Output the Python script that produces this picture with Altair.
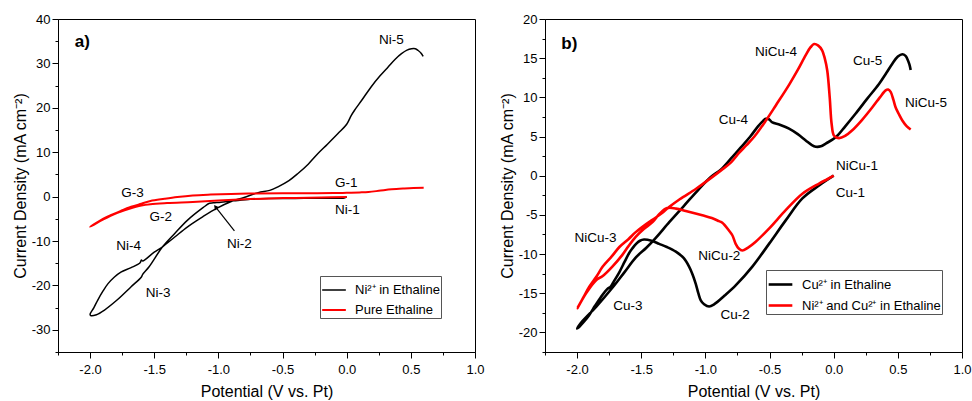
import altair as alt
import pandas as pd

FONT = "Liberation Sans"

# ---------------- Panel a) data ----------------
a_black_V = [0.0, -0.02, -0.2, -0.4, -0.6, -0.75, -0.88, -0.98, -1.04, -1.07, -1.12, -1.24, -1.34, -1.435,
             -1.54, -1.59, -1.60, -1.68, -1.79, -1.89, -1.95, -1.995, -2.0, -1.97, -1.94, -1.90, -1.86, -1.81,
             -1.76, -1.68, -1.61, -1.60, -1.59, -1.5, -1.435, -1.34, -1.24, -1.12, -1.01, -0.9, -0.8, -0.69,
             -0.6, -0.536, -0.45, -0.38, -0.3, -0.224, -0.15, -0.068, 0.0, 0.036, 0.06, 0.12, 0.19, 0.26,
             0.323, 0.38, 0.427, 0.47, 0.505, 0.535, 0.557, 0.58, 0.596]
a_black_J = [0.0, -0.3, -0.35, -0.4, -0.45, -0.6, -0.95, -1.25, -1.4, -1.5, -2.5, -5.3, -8.3, -11.3,
             -15.8, -17.5, -18.1, -20.3, -23.3, -25.6, -26.6, -26.8, -26.5, -25.0, -23.3, -21.3, -19.6, -18.1,
             -17.0, -16.0, -14.9, -14.3, -14.5, -12.5, -11.3, -9.1, -6.8, -4.5, -2.6, -1.1, -0.2, 0.9,
             1.4, 2.2, 3.6, 5.2, 7.3, 9.7, 11.8, 14.2, 16.3, 18.3, 19.4, 21.8, 24.7, 27.2,
             29.2, 31.0, 32.2, 33.0, 33.3, 33.3, 32.9, 32.3, 31.6]

a_red_V = [0.0, -0.2, -0.4, -0.6, -0.8, -1.0, -1.2, -1.4, -1.53, -1.6, -1.7, -1.8, -1.9, -2.0, -1.9,
           -1.84, -1.76, -1.68, -1.6, -1.53, -1.42, -1.32, -1.2, -1.06, -0.9, -0.7, -0.5, -0.3, -0.1,
           0.0, 0.1, 0.17, 0.25, 0.35, 0.45, 0.52, 0.6]
a_red_J = [-0.1, -0.2, -0.3, -0.4, -0.6, -0.9, -1.2, -1.45, -1.7, -2.0, -2.8, -3.8, -5.2, -6.8, -5.0,
           -4.2, -3.2, -2.3, -1.6, -1.0, -0.5, -0.1, 0.25, 0.45, 0.6, 0.7, 0.75, 0.75, 0.8,
           0.85, 0.95, 1.05, 1.3, 1.65, 1.85, 1.95, 2.0]

a_series = ["Ni²⁺ in Ethaline", "Pure Ethaline"]

a_labels = ["Ni-5", "G-1", "Ni-1", "G-3", "G-2", "Ni-4", "Ni-2", "Ni-3"]
a_label_V = [0.349, -0.003, 0.005, -1.67, -1.45, -1.70, -0.836, -1.47]
a_label_J = [35.3, 3.1, -3.1, 0.75, -4.7, -11.2, -10.6, -21.7]

a_arrow_V = [-0.875]
a_arrow_J = [-7.73]
a_arrow_V2 = [-1.018]
a_arrow_J2 = [-2.47]

# ---------------- Panel b) data ----------------
b_black_V = [0.0, -0.114, -0.244, -0.374, -0.504, -0.634, -0.764, -0.85, -0.93, -0.971, -1.01, -1.036,
             -1.055, -1.075, -1.1, -1.127, -1.17, -1.23, -1.30, -1.36, -1.42, -1.478, -1.51, -1.54, -1.57,
             -1.595, -1.63, -1.67, -1.71, -1.74, -1.76, -1.815, -1.86, -1.906, -1.95, -1.984, -2.0,
             -1.96, -1.85, -1.72, -1.63, -1.54, -1.46, -1.39, -1.28, -1.17, -1.05, -0.96, -0.878, -0.8,
             -0.722, -0.65, -0.59, -0.55, -0.53, -0.505, -0.478, -0.42, -0.348, -0.28, -0.218, -0.17,
             -0.14, -0.1, -0.062, 0.016, 0.09, 0.17, 0.26, 0.353, 0.41, 0.457, 0.5, 0.535, 0.56, 0.574,
             0.59, 0.6]
b_black_J = [0.0, -1.24, -2.9, -5.7, -8.7, -11.6, -14.0, -15.3, -16.4, -16.7, -16.4, -15.9,
             -15.0, -13.8, -12.6, -11.6, -10.5, -9.7, -9.1, -8.7, -8.3, -8.15, -8.3, -8.7, -9.3,
             -9.9, -11.0, -12.3, -13.4, -14.2, -14.4, -15.5, -16.6, -17.8, -18.7, -19.3, -19.5,
             -18.6, -16.7, -14.2, -12.3, -10.4, -9.2, -8.0, -5.9, -3.9, -1.7, -0.2, 0.8, 2.2,
             3.65, 5.0, 6.3, 7.0, 7.26, 7.2, 6.8, 6.5, 6.0, 5.3, 4.5, 3.9,
             3.7, 3.75, 4.1, 4.9, 6.3, 7.9, 9.8, 11.7, 13.1, 14.3, 15.2, 15.5, 15.3, 14.9,
             14.2, 13.5]

b_red_V = [0.0, -0.05, -0.114, -0.244, -0.374, -0.504, -0.61, -0.67, -0.712, -0.74, -0.764, -0.79,
           -0.816, -0.868, -0.894, -0.95, -1.024, -1.153, -1.23, -1.283, -1.31, -1.36, -1.41, -1.48,
           -1.543, -1.6, -1.647, -1.725, -1.80, -1.85, -1.93, -1.997,
           -1.95, -1.906, -1.85, -1.80, -1.73, -1.67, -1.6, -1.543, -1.48, -1.41, -1.34, -1.283, -1.2,
           -1.075, -0.982, -0.878, -0.8, -0.738, -0.68, -0.618, -0.53, -0.45, -0.348, -0.28, -0.218,
           -0.18, -0.153, -0.12, -0.09, -0.07, -0.05, -0.031, -0.016, 0.003, 0.041, 0.09, 0.145, 0.22,
           0.30, 0.36, 0.405, 0.425, 0.444, 0.465, 0.483, 0.51, 0.535, 0.57, 0.6]
b_red_J = [0.0, -0.45, -1.0, -2.3, -4.4, -6.75, -8.45, -9.2, -9.55, -9.3, -8.7, -7.6,
           -7.0, -6.0, -5.8, -5.4, -5.05, -4.5, -4.2, -4.1, -4.2, -4.9, -5.9, -6.8,
           -7.8, -9.0, -10.1, -11.6, -12.8, -13.3, -15.0, -16.9,
           -15.5, -14.2, -12.9, -11.6, -10.3, -9.1, -8.1, -7.2, -6.4, -5.6, -4.8, -4.0, -3.0,
           -1.7, -0.6, 0.68, 1.7, 2.9, 3.9, 5.0, 7.0, 9.0, 11.6, 13.5, 15.4,
           16.4, 16.8, 16.6, 16.0, 15.0, 13.4, 10.0, 6.6, 5.1, 4.8, 5.1, 5.8, 7.1,
           8.7, 10.0, 10.9, 11.0, 10.7, 9.7, 8.7, 7.8, 7.05, 6.3, 5.9]

b_series = ["Cu²⁺ in Ethaline", "Ni²⁺ and Cu²⁺ in Ethaline"]

b_labels = ["NiCu-4", "Cu-5", "NiCu-5", "Cu-4", "NiCu-1", "Cu-1", "NiCu-3", "NiCu-2", "Cu-3", "Cu-2"]
b_label_V = [-0.449, 0.265, 0.719, -0.782, 0.182, 0.13, -1.857, -0.891, -1.605, -0.769]
b_label_J = [15.8, 14.7, 9.3, 7.1, 1.2, -2.2, -8.0, -10.3, -16.6, -17.8]

# ---------------- axes ticks ----------------
x_major = [-2.0, -1.5, -1.0, -0.5, 0.0, 0.5, 1.0]
x_minor = [-2.25, -1.75, -1.25, -0.75, -0.25, 0.25, 0.75]
a_y_major = [-30, -20, -10, 0, 10, 20, 30, 40]
a_y_minor = [-35, -25, -15, -5, 5, 15, 25, 35]
b_y_major = [-20, -15, -10, -5, 0, 5, 10, 15, 20]
b_y_minor = [-22.5, -17.5, -12.5, -7.5, -2.5, 2.5, 7.5, 12.5, 17.5]


def curve_df(series, V, J):
    return pd.DataFrame({"series": series, "V": V, "J": J, "idx": list(range(len(V)))})


def major_axis(values, fmt, title, orient):
    return alt.Axis(
        values=values, title=title, orient=orient, grid=False, tickSize=6, labelFlush=False,
        labelExpr=f"(datum.value < 0 ? '-' : '') + format(abs(datum.value), '{fmt}')",
    )


def minor_axis(values, orient):
    return alt.Axis(values=values, title=None, orient=orient, grid=False, tickSize=3,
                    labels=False, domain=False)


def panel(lines_df, series, widths, lab_df, ydom, ymaj, ymin, tag, tag_J, lx, ly, w, h, arrow_df=None):
    xs = alt.Scale(domain=[-2.25, 1.0], nice=False, zero=False)
    ys = alt.Scale(domain=ydom, nice=False, zero=False)
    lines = alt.Chart(lines_df).mark_line(interpolate="catmull-rom").encode(
        x=alt.X("V:Q", scale=xs, axis=major_axis(x_major, ".1f", "Potential (V vs. Pt)", "bottom")),
        y=alt.Y("J:Q", scale=ys, axis=major_axis(ymaj, "d", "Current Density (mA cm⁻²)", "left")),
        color=alt.Color("series:N", scale=alt.Scale(domain=series, range=["#000000", "#ff0000"]),
                        legend=alt.Legend(title=None, orient="none", legendX=lx, legendY=ly,
                                          symbolType="stroke", symbolSize=560, symbolStrokeWidth=2.2,
                                          labelFont=FONT, labelFontSize=13, labelColor="black",
                                          strokeColor="#555555", fillColor="white", padding=1,
                                          rowPadding=-9, labelOffset=8, labelLimit=300)),
        strokeWidth=alt.StrokeWidth("series:N", scale=alt.Scale(domain=series, range=widths), legend=None),
        order="idx:Q",
    )
    text = alt.Chart(lab_df).mark_text(font=FONT, fontSize=13.5, color="black").encode(
        x=alt.X("V:Q", scale=xs, axis=minor_axis(x_minor, "bottom")),
        y=alt.Y("J:Q", scale=ys, axis=minor_axis(ymin, "left")),
        text="label:N")
    tag_df = pd.DataFrame({"V": [-2.06], "J": [tag_J], "label": [tag]})
    tagm = alt.Chart(tag_df).mark_text(font=FONT, fontSize=17, fontWeight="bold", color="black").encode(
        x=alt.X("V:Q", scale=xs, axis=None), y=alt.Y("J:Q", scale=ys, axis=None), text="label:N")
    layers = [lines, text, tagm]
    if arrow_df is not None:
        rule = alt.Chart(arrow_df).mark_rule(color="black", strokeWidth=1.2).encode(
            x=alt.X("V:Q", scale=xs, axis=None), y=alt.Y("J:Q", scale=ys, axis=None),
            x2="V2:Q", y2="J2:Q")
        head = alt.Chart(arrow_df).mark_point(shape="triangle", filled=True, color="black", size=30,
                                              angle=322, opacity=1).encode(
            x=alt.X("V2:Q", scale=xs, axis=None), y=alt.Y("J2:Q", scale=ys, axis=None))
        layers += [rule, head]
    return alt.layer(*layers).resolve_axis(x="independent", y="independent").properties(width=w, height=h)


a_lines = pd.concat([curve_df(a_series[0], a_black_V, a_black_J),
                     curve_df(a_series[1], a_red_V, a_red_J)], ignore_index=True)
b_lines = pd.concat([curve_df(b_series[0], b_black_V, b_black_J),
                     curve_df(b_series[1], b_red_V, b_red_J)], ignore_index=True)
a_lab = pd.DataFrame({"V": a_label_V, "J": a_label_J, "label": a_labels})
b_lab = pd.DataFrame({"V": b_label_V, "J": b_label_J, "label": b_labels})
a_arrow = pd.DataFrame({"V": a_arrow_V, "J": a_arrow_J, "V2": a_arrow_V2, "J2": a_arrow_J2})

left = panel(a_lines, a_series, [1.5, 2.0], a_lab, [-35, 40], a_y_major, a_y_minor, "a)", 34.8,
             262, 257, 417, 333, a_arrow)
right = panel(b_lines, b_series, [2.6, 2.6], b_lab, [-22.5, 20], b_y_major, b_y_minor, "b)", 16.8,
              221, 251, 417, 333)

chart = alt.hconcat(left, right, spacing=13).resolve_scale(color="independent", strokeWidth="independent").properties(
    padding={"left": 11, "top": 12, "right": 0, "bottom": 0}
).configure_view(stroke="black", strokeWidth=1).configure_axis(
    labelFont=FONT, titleFont=FONT, labelFontSize=13, titleFontSize=16, titleFontWeight="normal",
    labelColor="black", titleColor="black", domainColor="black", tickColor="black",
    domainWidth=1, tickWidth=1, labelPadding=2, titlePadding=4
).configure_axisY(titlePadding=3).configure_axisX(labelPadding=5, titlePadding=7)

chart.save("out.html", embed_options={"renderer": "svg", "actions": False})
